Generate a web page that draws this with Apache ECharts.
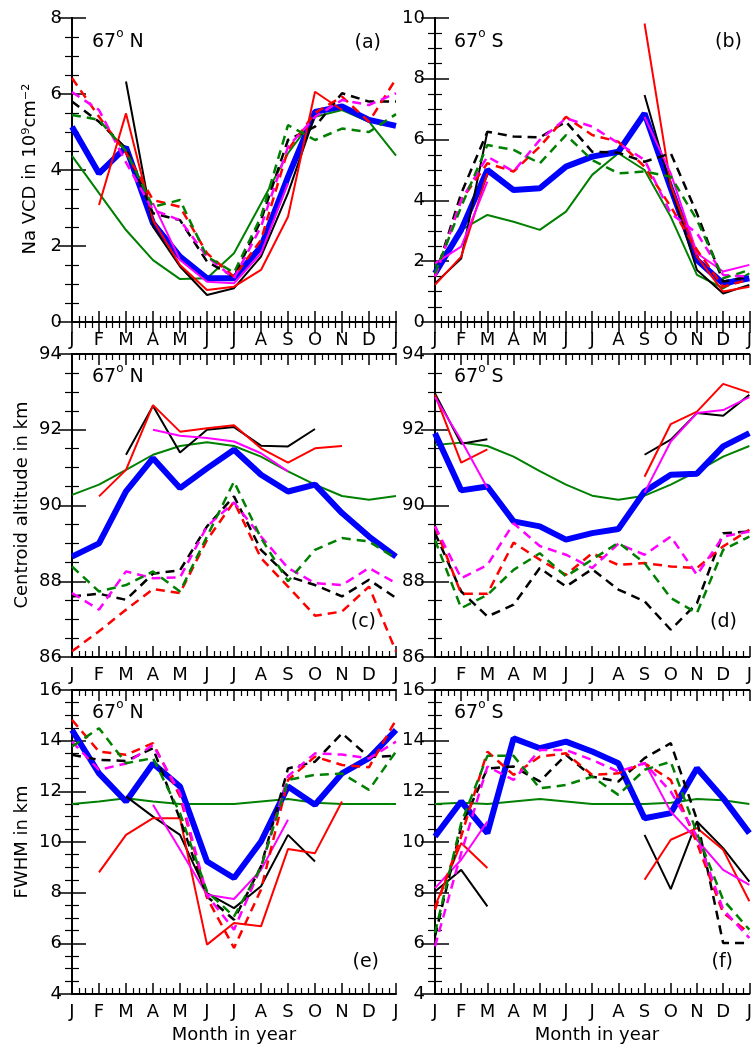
<!DOCTYPE html>
<html><head><meta charset="utf-8">
<script src="https://cdn.jsdelivr.net/npm/echarts@6/dist/echarts.min.js"></script>
<style>html,body{margin:0;padding:0;background:#fff}#c{width:755px;height:1045px}</style>
</head><body><div id="c"></div>
<script>
const months = ['J','F','M','A','M','J','J','A','S','O','N','D','J'];
const _ = null;
// Panel (a) 67N Na VCD
const blueA   = [5.14,3.91,4.6,2.6,1.72,1.15,1.15,1.98,3.82,5.53,5.67,5.32,5.16];
const greenA  = [4.37,3.39,2.42,1.63,1.13,1.15,1.81,3.12,4.44,5.4,5.58,5.27,4.38];
const blackA  = [_,_,6.33,2.51,1.46,0.71,0.89,1.72,3.39,5.45,_,_,_];
const redA    = [_,3.08,5.49,2.68,1.5,0.84,0.93,1.37,2.77,6.06,5.58,_,_];
const magA    = [_,_,_,3.13,1.63,1.06,1.02,1.81,3.65,_,_,_,_];
const blackDA = [5.8,5.27,4.57,2.86,2.68,1.59,1.19,2.68,4.79,5.14,6.02,5.8,5.8];
const redDA   = [6.42,5.4,4.45,3.21,3.03,1.81,1.19,2.16,4.53,5.5,5.93,5.27,6.4];
const magDA   = [6.05,5.58,4.2,2.95,2.68,1.72,1.15,2.51,4.61,5.4,5.84,5.71,6.02];
const greenDA = [5.45,5.32,4.5,3.03,3.21,1.72,1.3,2.77,5.18,4.79,5.09,5.0,5.47];
// Panel (b) 67S Na VCD
const blueB   = [1.6,3.03,5.0,4.34,4.4,5.11,5.44,5.6,6.86,4.4,2.04,1.27,1.44];
const greenB  = [1.82,3.03,3.52,3.3,3.03,3.63,4.84,5.55,5.0,3.46,1.55,1.11,1.6];
const blackB  = [1.27,2.09,6.26,_,_,_,_,_,7.47,4.45,1.71,0.94,1.22];
const redB    = [1.22,2.15,4.89,_,_,_,_,_,9.82,4.5,2.15,1.0,1.16];
const magB    = [1.93,2.48,4.62,_,_,_,_,_,6.75,4.89,2.26,1.66,1.88];
const blackDB = [1.49,4.23,6.26,6.1,6.07,6.59,5.6,5.57,5.27,5.55,3.57,1.33,1.49];
const redDB   = [1.49,4.01,5.22,4.95,5.77,6.75,6.15,5.93,5.11,3.79,2.37,1.16,1.4];
const magDB   = [1.49,4.01,5.44,4.95,5.99,6.7,6.43,5.88,5.33,3.57,2.92,1.55,1.49];
const greenDB = [1.6,3.79,5.82,5.66,5.22,6.15,5.33,4.89,4.95,4.78,3.36,1.44,1.71];
// Panel (c) 67N centroid altitude
const blueC   = [88.65,89.0,90.37,91.25,90.46,90.98,91.47,90.81,90.37,90.55,89.8,89.18,88.65];
const greenC  = [90.28,90.55,90.94,91.34,91.57,91.67,91.57,91.29,90.9,90.55,90.25,90.15,90.25];
const blackC  = [_,_,91.34,92.63,91.4,92.0,92.07,91.58,91.56,92.02,_,_,_];
const redC    = [_,90.24,90.94,92.65,91.95,92.04,92.12,91.51,91.13,91.51,91.57,_,_];
const magC    = [_,_,_,92.0,91.84,91.78,91.69,91.38,90.9,_,_,_,_];
const blackDC = [87.6,87.67,87.51,88.2,88.29,89.45,90.24,88.83,88.13,87.9,87.6,88.04,87.56];
const redDC   = [86.15,86.68,87.25,87.79,87.69,89.09,90.1,88.61,87.86,87.09,87.2,87.86,86.15];
const magDC   = [87.69,87.25,88.26,88.08,88.1,89.45,90.08,89.18,88.35,87.95,87.9,88.35,87.95];
const greenDC = [88.39,87.73,87.9,88.26,87.73,89.18,90.63,89.14,88.0,88.83,89.14,89.05,88.6];
// Panel (d) 67S centroid altitude
const blueD   = [91.91,90.4,90.5,89.58,89.45,89.1,89.27,89.38,90.37,90.81,90.84,91.56,91.91];
const greenD  = [91.6,91.66,91.57,91.29,90.91,90.55,90.26,90.15,90.26,90.55,90.9,91.29,91.57];
const blackD  = [92.96,91.63,91.75,_,_,_,_,_,91.34,91.74,92.44,92.37,92.92];
const redD    = [92.92,91.13,91.48,_,_,_,_,_,90.76,92.15,92.48,93.21,92.98];
const magD    = [92.86,91.72,90.46,_,_,_,_,_,90.34,91.69,92.44,92.52,92.86];
const blackDD = [89.27,87.73,87.07,87.38,88.35,87.86,88.32,87.78,87.47,86.72,87.42,89.27,89.31];
const redDD   = [89.45,87.67,87.67,89.02,88.57,88.17,88.74,88.43,88.48,88.39,88.35,88.92,89.36];
const magDD   = [89.45,88.08,88.43,89.53,88.93,88.7,88.35,88.99,88.7,89.18,88.17,89.18,89.31];
const greenDD = [89.09,87.29,87.64,88.3,88.74,88.13,88.57,89.02,88.48,87.56,87.16,88.83,89.18];
// Panel (e) 67N FWHM
const blueE   = [14.42,12.71,11.6,13.1,12.19,9.23,8.58,10.02,12.19,11.47,12.71,13.31,14.42];
const greenE  = [11.5,11.6,11.73,11.6,11.5,11.5,11.5,11.6,11.7,11.55,11.5,11.5,11.5];
const blackE  = [_,_,11.8,11.0,10.28,7.98,7.39,8.25,10.28,9.23,_,_,_];
const redE    = [_,8.8,10.28,10.94,10.94,5.95,6.8,6.67,9.72,9.56,11.6,_,_];
const magE    = [_,_,_,11.47,9.7,7.92,7.75,8.9,10.88,_,_,_,_];
const blackDE = [13.44,13.24,13.2,13.7,10.9,7.85,6.93,9.04,12.9,13.17,14.29,13.35,13.4];
const redDE   = [14.82,13.57,13.44,13.9,11.8,7.8,5.82,8.12,12.45,13.37,13.04,12.95,14.82];
const magDE   = [13.96,12.85,13.1,13.83,11.93,7.9,6.54,9.0,12.6,13.5,13.45,13.3,13.96];
const greenDE = [13.77,14.49,13.11,13.31,11.14,8.05,7.06,9.0,12.45,12.65,12.7,12.06,13.57];
// Panel (f) 67S FWHM
const blueF   = [10.22,11.6,10.35,14.09,13.7,13.96,13.57,13.11,10.94,11.14,12.91,11.73,10.35];
const greenF  = [11.5,11.55,11.5,11.6,11.7,11.6,11.5,11.5,11.5,11.55,11.7,11.65,11.5];
const blackF  = [8.05,8.9,7.46,_,_,_,_,_,10.28,8.14,10.81,9.76,8.44];
const redF    = [7.46,9.96,8.97,_,_,_,_,_,8.51,10.09,10.55,9.69,7.66];
const magF    = [8.18,9.3,10.81,_,_,_,_,_,13.14,11.2,10.09,8.9,8.31];
const blackDF = [6.28,10.61,12.9,12.98,12.39,13.44,12.58,12.39,13.31,13.9,10.88,6.01,6.01];
const redDF   = [7.33,10.22,13.57,12.65,13.37,13.5,12.65,12.71,13.11,12.45,9.96,7.2,6.41];
const magDF   = [5.88,9.56,12.98,12.45,13.63,13.63,13.24,12.78,13.11,11.99,10.22,7.33,6.21];
const greenDF = [6.41,10.75,13.4,13.4,12.12,12.25,12.58,11.86,12.85,13.17,10.35,7.72,6.54];

const yRanges = [[0,8],[0,10],[86,94],[86,94],[4,16],[4,16]];

const panels = [
  [blueA,greenA,blackA,redA,magA,blackDA,redDA,magDA,greenDA],
  [blueB,greenB,blackB,redB,magB,blackDB,redDB,magDB,greenDB],
  [blueC,greenC,blackC,redC,magC,blackDC,redDC,magDC,greenDC],
  [blueD,greenD,blackD,redD,magD,blackDD,redDD,magDD,greenDD],
  [blueE,greenE,blackE,redE,magE,blackDE,redDE,magDE,greenDE],
  [blueF,greenF,blackF,redF,magF,blackDF,redDF,magDF,greenDF]
];
const styles = [
  {c:'#0000ff',w:6,t:'solid'},
  {c:'#008000',w:2,t:'solid'},
  {c:'#000000',w:2,t:'solid'},
  {c:'#ff0000',w:2,t:'solid'},
  {c:'#ff00ff',w:2,t:'solid'},
  {c:'#000000',w:2.5,t:[9,6]},
  {c:'#ff0000',w:2.5,t:[9,6]},
  {c:'#ff00ff',w:2.5,t:[9,6]},
  {c:'#008000',w:2.5,t:[9,6]}
];
const drawOrder = [1,0,2,3,4,5,6,7,8];

const FONT = 'DejaVu Sans';
const gridPos = [];
const tops = [18,354,690], heights=[304,303,304];
for (let r=0;r<3;r++){ gridPos.push({left:72,top:tops[r],width:324,height:heights[r]}); gridPos.push({left:435,top:tops[r],width:324,height:heights[r]}); }

function tickCfg(len){ return {show:true,inside:true,length:len,lineStyle:{color:'#000',width:1.5}}; }
function minorCfg(len){ return {show:true,splitNumber:4,length:len,lineStyle:{color:'#000',width:1.2}}; }
const lineCfg = {show:true,lineStyle:{color:'#000',width:2}};

const xAxes=[], yAxes=[], series=[];
gridPos.forEach((g,i)=>{
  const [mn,mx]=yRanges[i];
  xAxes.push({type:'value',gridIndex:i,min:0,max:12,interval:1,position:'bottom',axisLine:lineCfg,splitLine:{show:false},minorSplitLine:{show:false},
    axisTick:tickCfg(11),minorTick:minorCfg(6),
    axisLabel:{show:true,margin:9,fontFamily:FONT,fontSize:18,color:'#000',formatter:v=>months[v]||'',showMinLabel:true,showMaxLabel:true}});
  xAxes.push({type:'value',gridIndex:i,min:0,max:12,interval:1,position:'top',axisLine:lineCfg,splitLine:{show:false},minorSplitLine:{show:false},
    axisTick:tickCfg(11),minorTick:minorCfg(6),axisLabel:{show:false}});
  yAxes.push({type:'value',gridIndex:i,min:mn,max:mx,interval:2,position:'left',axisLine:lineCfg,splitLine:{show:false},minorSplitLine:{show:false},
    axisTick:tickCfg(14),minorTick:minorCfg(7),
    axisLabel:{show:true,margin:10,fontFamily:FONT,fontSize:18,color:'#000'}});
  yAxes.push({type:'value',gridIndex:i,min:mn,max:mx,interval:2,position:'right',axisLine:lineCfg,splitLine:{show:false},minorSplitLine:{show:false},
    axisTick:tickCfg(14),minorTick:minorCfg(7),axisLabel:{show:false}});
  drawOrder.forEach(k=>{
    const s=styles[k];
    series.push({type:'line',xAxisIndex:2*i,yAxisIndex:2*i,symbol:'none',silent:true,animation:false,
      connectNulls:false,z:2,
      lineStyle:{color:s.c,width:s.w,type:s.t},
      data:panels[i][k].map((v,j)=>[j, v===null?'-':v])});
  });
});

function degText(left,top,place){
  return {type:'text',left:left,top:top,style:{text:'{n|67}{s|o}{n| '+place+'}',
    rich:{n:{fontFamily:FONT,fontSize:19,fill:'#000',lineHeight:24,verticalAlign:'bottom'},
          s:{fontFamily:FONT,fontSize:12,fill:'#000',lineHeight:24,verticalAlign:'top'}}}};
}
function lab(t,right,cy){
  return {type:'text',right:right,top:cy-12,style:{text:t,fontFamily:FONT,fontSize:19,fill:'#000'}};
}
function rot(t,cx,cy){
  return {type:'text',x:cx,y:cy,rotation:Math.PI/2,style:{text:t,fontFamily:FONT,fontSize:18,fill:'#000',
    align:'center',verticalAlign:'middle',textAlign:'center',textVerticalAlign:'middle'}};
}
function hor(t,cx,cy){
  return {type:'text',x:cx,y:cy,style:{text:t,fontFamily:FONT,fontSize:18,fill:'#000',
    align:'center',verticalAlign:'middle',textAlign:'center',textVerticalAlign:'middle'}};
}
const graphics = [
  degText(92,28,'N'), degText(454,28,'S'),
  degText(92,363,'N'), degText(454,363,'S'),
  degText(92,699,'N'), degText(454,699,'S'),
  lab('(a)',755-381,46), lab('(b)',755-742,45),
  lab('(c)',755-376,625), lab('(d)',755-737,625),
  lab('(e)',755-379,965), lab('(f)',755-733,965),
  rot('Na VCD in 10\u2079cm\u207B\u00B2',30,169),
  rot('Centroid altitude in km',22,505),
  rot('FWHM in km',22,842),
  hor('Month in year',234,1035), hor('Month in year',597,1035)
];

const chart = echarts.init(document.getElementById('c'),null,{renderer:'canvas'});
chart.setOption({animation:false,backgroundColor:'#fff',
  grid:gridPos.map(g=>Object.assign({containLabel:false},g)),
  xAxis:xAxes,yAxis:yAxes,series:series,graphic:graphics});
</script></body></html>
